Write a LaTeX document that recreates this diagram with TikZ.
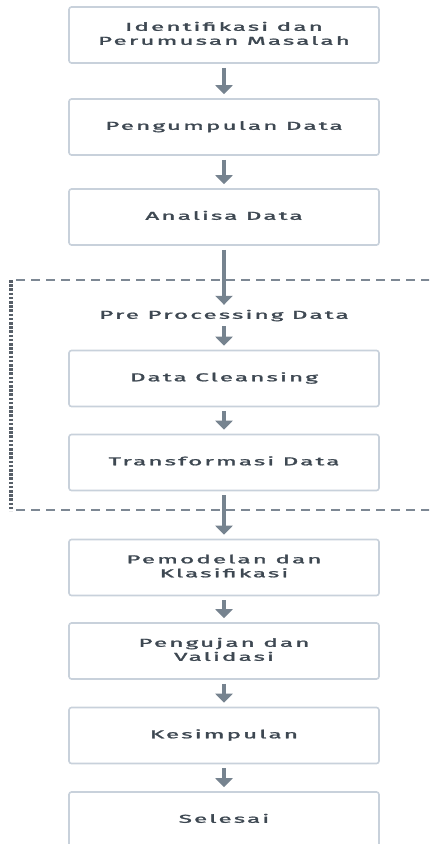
\documentclass[tikz,border=0pt]{standalone}
\usepackage{fontspec}
\usepackage{graphicx}
\setmainfont{Fira Sans}[LetterSpace=9,FakeBold=1.4]
\usetikzlibrary{arrows.meta}
\definecolor{boxline}{HTML}{C8D1DB}
\definecolor{txt}{HTML}{3E4852}
\definecolor{arrc}{HTML}{76838F}
\definecolor{dashc}{HTML}{7D8894}
\newcommand{\wtxt}[1]{\scalebox{2.1}[1]{\begin{tabular}{@{}c@{}}#1\end{tabular}}}
\begin{document}
\begin{tikzpicture}[x=1pt,y=-1pt,
  stepbox/.style={draw=boxline,line width=1.6pt,rounded corners=2.5pt,fill=white,
    minimum width=310pt,minimum height=56pt,inner sep=0pt,text=txt,
    font=\fontsize{11.5}{14}\selectfont,align=center},
  plain/.style={text=txt,font=\fontsize{11.5}{14}\selectfont,inner sep=0pt,minimum height=14pt},
  arr/.style={draw=arrc,line width=4.5pt,-{Triangle[width=17pt,length=9pt]},arrc,
    shorten <=4pt,shorten >=4pt}]
\useasboundingbox (0,0) rectangle (429,844);
\clip (0,0) rectangle (429,844);
% frame
\draw[dashc,line width=1.4pt,dash pattern=on 9pt off 6pt] (16,280) -- (440,280);
\draw[dashc,line width=1.4pt,dash pattern=on 9pt off 6pt] (16,510) -- (440,510);
\draw[dashc!70!black,line width=3.2pt,dash pattern=on 2.6pt off 1.6pt] (11,280) -- (11,511);
% nodes
\node[stepbox] (b1) at (224,35) {\wtxt{Identifikasi dan\\Perumusan Masalah}};
\node[stepbox] (b2) at (224,127) {\wtxt{Pengumpulan Data}};
\node[stepbox] (b3) at (224,217) {\wtxt{Analisa Data}};
\node[plain] (pre) at (224,316) {\wtxt{Pre Processing Data}};
\node[stepbox] (b4) at (224,378.5) {\wtxt{Data Cleansing}};
\node[stepbox] (b5) at (224,462.5) {\wtxt{Transformasi Data}};
\node[stepbox] (b6) at (224,567.5) {\wtxt{Pemodelan dan\\Klasifikasi}};
\node[stepbox] (b7) at (224,651) {\wtxt{Pengujan dan\\Validasi}};
\node[stepbox] (b8) at (224,735.5) {\wtxt{Kesimpulan}};
\node[stepbox] (b9) at (224,820) {\wtxt{Selesai}};
% arrows
\draw[arr] (b1) -- (b2);
\draw[arr] (b2) -- (b3);
\draw[arr] (b3) -- (pre);
\draw[arr,shorten <=3pt] (pre) -- (b4);
\draw[arr] (b4) -- (b5);
\draw[arr] (b5) -- (b6);
\draw[arr] (b6) -- (b7);
\draw[arr] (b7) -- (b8);
\draw[arr] (b8) -- (b9);
\end{tikzpicture}
\end{document}
